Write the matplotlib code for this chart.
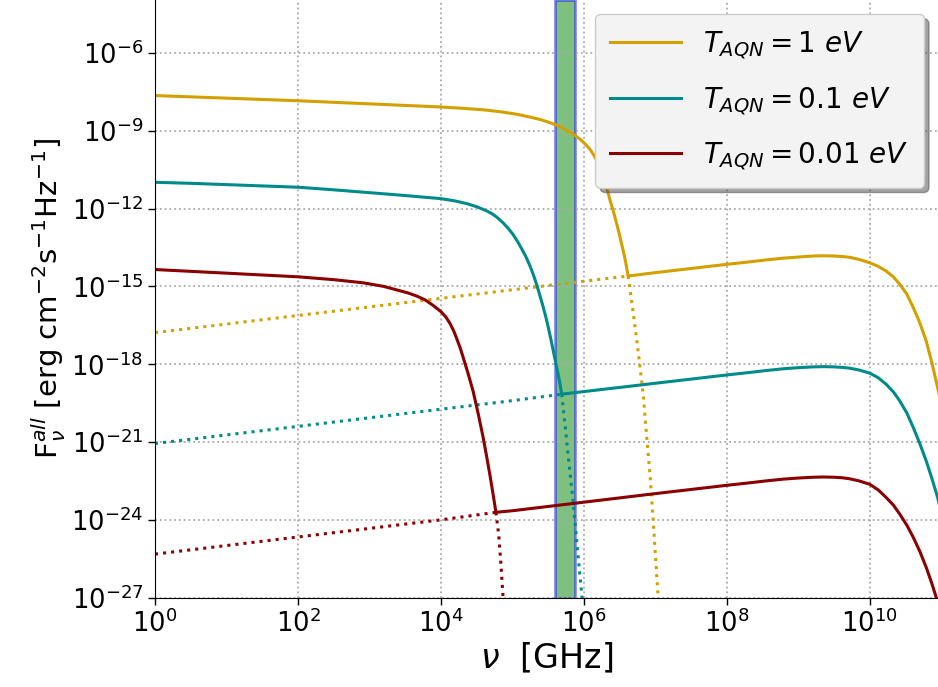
import numpy as np
import matplotlib
matplotlib.use("Agg")
import matplotlib.pyplot as plt

# ---- data (log10 values) ----
labels = [r'$T_{AQN}=1\ eV$', r'$T_{AQN}=0.1\ eV$', r'$T_{AQN}=0.01\ eV$']
colors = ['#d4a000', '#008b8b', '#8b0000']

# falling (low-frequency, thermal-like) component: log10(nu/GHz), log10(F)
fall_lognu_1 = [0, 0.5, 1, 1.5, 2, 2.5, 3, 3.5, 4, 4.3, 4.6, 4.85, 5.06, 5.25, 5.4, 5.5, 5.6,
                5.68, 5.75, 5.83, 5.9, 5.96, 6.02, 6.08, 6.13, 6.17, 6.2, 6.24, 6.27, 6.3,
                6.34, 6.37, 6.41, 6.44, 6.47, 6.5, 6.53, 6.555, 6.58, 6.6, 6.62,
                6.69, 6.76, 6.83, 6.88, 6.93, 6.97, 7.04, 7.06]
fall_logF_1 = [-7.65, -7.70, -7.75, -7.80, -7.85, -7.91, -7.97, -8.03, -8.09, -8.14, -8.2,
               -8.28, -8.37, -8.48, -8.58, -8.67, -8.77, -8.87, -8.98, -9.1, -9.23, -9.36,
               -9.52, -9.7, -9.9, -10.1, -10.3, -10.55, -10.8, -11.07, -11.4, -11.72,
               -12.08, -12.38, -12.7, -13.03, -13.38, -13.68, -14.0, -14.3, -14.6,
               -16.0, -17.5, -19.15, -20.8, -22.4, -24.0, -27.0, -28.0]

fall_lognu_2 = [0, 0.5, 1, 1.5, 2, 2.5, 3, 3.5, 4, 4.2, 4.36, 4.5, 4.64, 4.72, 4.78, 4.87,
                4.94, 5.01, 5.07, 5.13, 5.19, 5.24, 5.29, 5.33, 5.38, 5.43, 5.47, 5.5, 5.54,
                5.57, 5.62, 5.66, 5.69, 5.74, 5.78, 5.85, 5.9, 5.97, 6.0]
fall_logF_2 = [-10.99, -11.03, -11.08, -11.13, -11.18, -11.28, -11.39, -11.5, -11.62, -11.71,
               -11.81, -11.93, -12.09, -12.21, -12.33, -12.55, -12.76, -13.0, -13.26, -13.55,
               -13.86, -14.17, -14.52, -14.85, -15.3, -15.78, -16.2, -16.55, -17.05, -17.45,
               -18.12, -18.66, -19.15, -20.4, -21.5, -23.3, -24.8, -26.85, -28.0]

fall_lognu_3 = [0, 0.5, 1, 1.5, 2, 2.5, 2.91, 3.2, 3.43, 3.55, 3.66, 3.78, 3.89, 4.0, 4.07,
                4.13, 4.18, 4.22, 4.27, 4.31, 4.38, 4.45, 4.52, 4.59, 4.64, 4.69, 4.73, 4.77,
                4.81, 4.84, 4.87, 4.89]
fall_logF_3 = [-14.35, -14.42, -14.49, -14.56, -14.63, -14.74, -14.86, -15.0, -15.17, -15.26,
               -15.37, -15.52, -15.73, -15.97, -16.18, -16.44, -16.72, -17.0, -17.37, -17.72,
               -18.35, -19.03, -19.88, -20.8, -21.55, -22.33, -23.0, -23.7,
               -24.6, -25.7, -26.98, -28.0]

# rising (power-law with high-frequency cutoff) component
rise_lognu_1 = [0, 1, 2, 3, 4, 5, 6, 6.62, 7, 7.5, 8.0, 8.3, 8.55, 8.8, 9.0, 9.2, 9.35,
                9.5, 9.62, 9.72, 9.85, 10.0, 10.12, 10.23, 10.33, 10.42, 10.52, 10.61, 10.7,
                10.79, 10.87, 10.95, 11.0]
rise_logF_1 = [-16.78, -16.45, -16.12, -15.79, -15.46, -15.13, -14.8, -14.6, -14.47, -14.31,
               -14.15, -14.06, -13.98, -13.91, -13.87, -13.83, -13.82, -13.83,
               -13.85, -13.88, -13.96, -14.09, -14.23, -14.41, -14.63, -14.92, -15.3,
               -15.82, -16.4, -17.1, -17.95, -18.9, -19.5]

rise_lognu_2 = [0, 1, 2, 3, 4, 5, 5.69, 6.22, 7, 7.5, 8.0, 8.3, 8.55, 8.8, 9.0, 9.2, 9.35,
                9.5, 9.62, 9.72, 9.85, 10.0, 10.12, 10.23, 10.33, 10.42, 10.52, 10.61, 10.7,
                10.79, 10.87, 10.95, 11.0]
rise_logF_2 = [-21.05, -20.72, -20.39, -20.06, -19.73, -19.4, -19.15, -18.98, -18.73, -18.57,
               -18.41, -18.32, -18.24, -18.17, -18.13, -18.1, -18.09, -18.1, -18.12,
               -18.15, -18.22, -18.34, -18.52, -18.77, -19.06, -19.41, -19.88, -20.44,
               -21.05, -21.72, -22.4, -23.13, -23.7]

rise_lognu_3 = [0, 1, 2, 3, 4, 4.77, 5, 6, 7, 7.5, 8.0, 8.3, 8.55, 8.8, 9.0, 9.2, 9.35,
                9.5, 9.62, 9.72, 9.85, 10.0, 10.12, 10.23, 10.33, 10.42, 10.52, 10.61, 10.7,
                10.79, 10.87, 10.93, 11.0]
rise_logF_3 = [-25.31, -24.98, -24.65, -24.32, -23.99, -23.7, -23.64, -23.31, -22.98, -22.82,
               -22.66, -22.57, -22.49, -22.42, -22.38, -22.35, -22.34, -22.35, -22.37,
               -22.41, -22.49, -22.62, -22.84, -23.13, -23.42, -23.77, -24.2, -24.67,
               -25.2, -25.82, -26.45, -26.98, -27.6]

# crossing of the two components (where the total changes branch)
kink_lognu = [6.62, 5.69, 4.77]

# optical band [GHz]
band = [4.0e5, 7.6e5]

x_ticks = [1e0, 1e2, 1e4, 1e6, 1e8, 1e10]
y_ticks = [1e-27, 1e-24, 1e-21, 1e-18, 1e-15, 1e-12, 1e-9, 1e-6]

falls = [(fall_lognu_1, fall_logF_1), (fall_lognu_2, fall_logF_2), (fall_lognu_3, fall_logF_3)]
rises = [(rise_lognu_1, rise_logF_1), (rise_lognu_2, rise_logF_2), (rise_lognu_3, rise_logF_3)]

# ---- figure ----
W, H = 938, 687
fig = plt.figure(figsize=(W / 100, H / 100), dpi=100)
ax = fig.add_axes([155 / W, 89 / H, 1 - 155 / W, 1 - 89 / H])

lw = 2.2
for (fx, fy), (rx, ry), k, c, lab in zip(falls, rises, kink_lognu, colors, labels):
    fx = np.array(fx); fy = np.array(fy); rx = np.array(rx); ry = np.array(ry)
    mf = fx >= k
    mr = rx <= k
    ax.plot(10 ** fx[mf], 10 ** fy[mf], ls=':', color=c, lw=lw)
    ax.plot(10 ** rx[mr], 10 ** ry[mr], ls=':', color=c, lw=lw)
    sx = np.concatenate([fx[fx <= k], rx[rx > k]])
    sy = np.concatenate([fy[fx <= k], ry[rx > k]])
    ax.plot(10 ** sx, 10 ** sy, ls='-', color=c, lw=lw, label=lab)

ax.axvspan(band[0], band[1], facecolor=(0, 0.5, 0, 0.5), edgecolor=(0, 0, 1, 0.45), lw=2)

ax.set_xscale('log')
ax.set_yscale('log')
ax.set_xlim(1, 10 ** 10.955)
ax.set_ylim(1e-27, 10 ** -3.97)
ax.set_xticks(x_ticks)
ax.set_yticks(y_ticks)
ax.xaxis.set_minor_locator(matplotlib.ticker.NullLocator())
ax.yaxis.set_minor_locator(matplotlib.ticker.NullLocator())
ax.tick_params(axis='both', which='major', labelsize=18.5, length=5, width=1)
ax.grid(True, which='major', ls=':', color='#aaaaaa', lw=1.3)
ax.spines['top'].set_visible(False)
ax.spines['right'].set_visible(False)

ax.set_xlabel(r'$\nu$  [GHz]', fontsize=24, labelpad=2)
ax.set_ylabel(r'F$_\nu^{all}$ [erg cm$^{-2}$s$^{-1}$Hz$^{-1}$]', fontsize=21, labelpad=2)

leg = ax.legend(loc='upper right', fontsize=20, fancybox=True,
                shadow={'ox': 3.5, 'oy': -3.5},
                handlelength=2.55, labelspacing=0.85, borderaxespad=0.5, borderpad=0.55,
                framealpha=1, facecolor='#f3f3f3', edgecolor='#cccccc')

fig.savefig('out.png', dpi=100)
